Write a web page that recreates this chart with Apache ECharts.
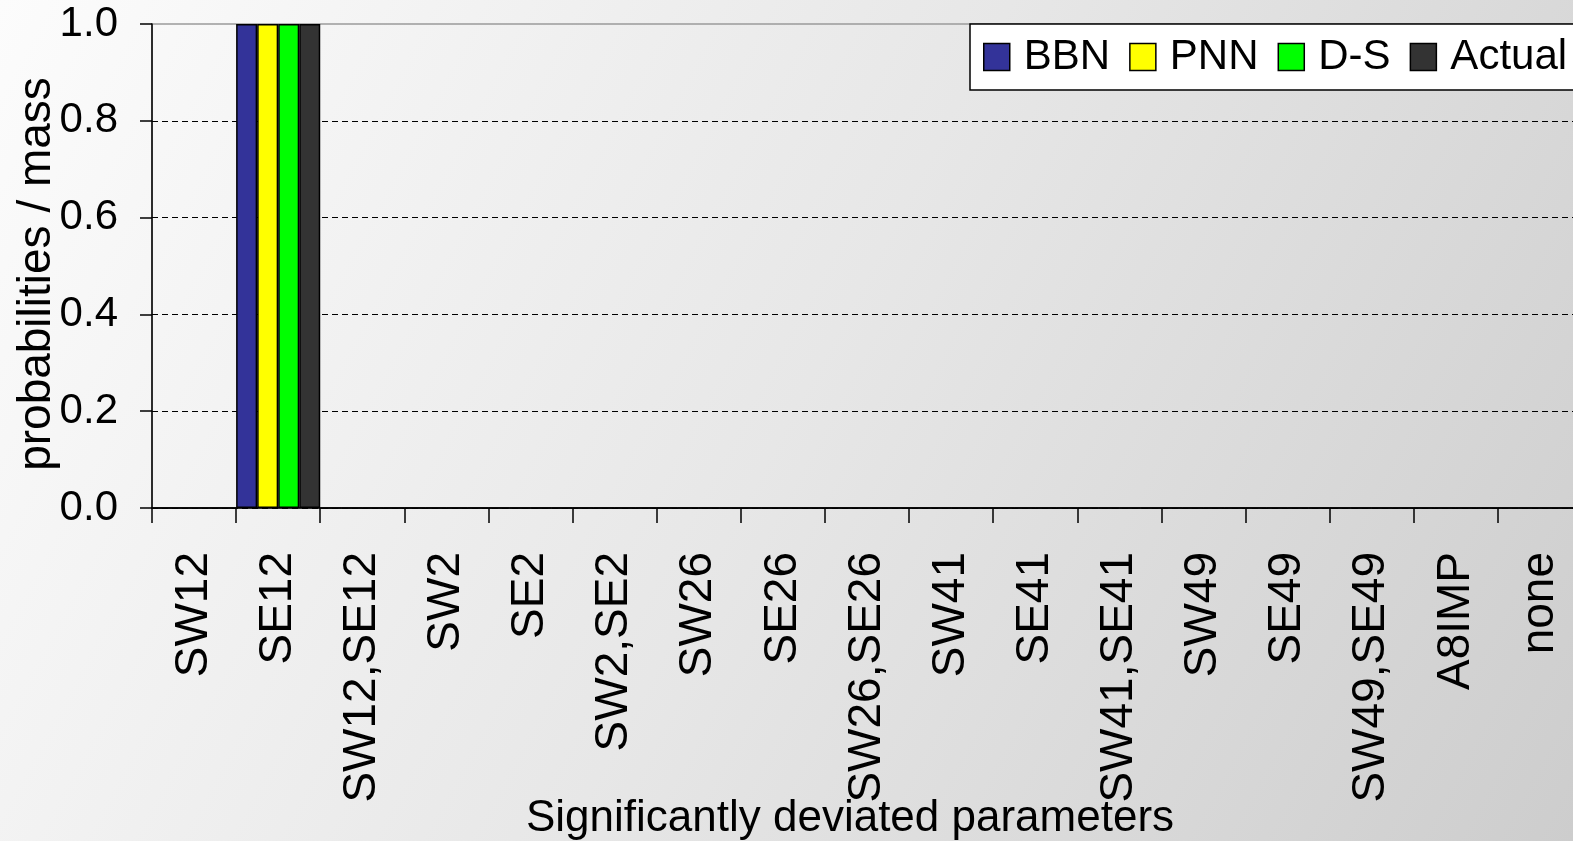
<!DOCTYPE html>
<html>
<head>
<meta charset="utf-8">
<script src="https://cdn.jsdelivr.net/npm/echarts@6/dist/echarts.min.js"></script>
<style>
html,body{margin:0;padding:0;width:1573px;height:841px;overflow:hidden;}
#chart{width:1573px;height:841px;}
</style>
</head>
<body>
<div id="chart"></div>
<script>
const categories = ['SW12','SE12','SW12,SE12','SW2','SE2','SW2,SE2','SW26','SE26','SW26,SE26','SW41','SE41','SW41,SE41','SW49','SE49','SW49,SE49','A8IMP','none'];
const bbn    = [0,1,0,0,0,0,0,0,0,0,0,0,0,0,0,0,0];
const pnn    = [0,1,0,0,0,0,0,0,0,0,0,0,0,0,0,0,0];
const ds     = [0,1,0,0,0,0,0,0,0,0,0,0,0,0,0,0,0];
const actual = [0,1,0,0,0,0,0,0,0,0,0,0,0,0,0,0,0];
const yTicks = ['0.0','0.2','0.4','0.6','0.8','1.0'];

const FONT = '"Liberation Sans", Arial, sans-serif';
const chart = echarts.init(document.getElementById('chart'));
function s(name, data, color) {
  return {
    name, type: 'bar', data,
    barGap: '0%', barCategoryGap: '0%',
    itemStyle: { color, borderColor: '#000', borderWidth: 1.5 },
    emphasis: { disabled: true }
  };
}
chart.setOption({
  animation: false,
  backgroundColor: {
    type: 'linear', x: 0, y: 0, x2: 1, y2: 1,
    colorStops: [
      { offset: 0, color: '#fcfcfc' },
      { offset: 0.5, color: '#e7e7e7' },
      { offset: 1, color: '#cdcdcd' }
    ]
  },
  grid: {
    left: 152, top: 24, width: 1430, height: 484,
    outerBoundsMode: 'none', containLabel: false,
    show: true, borderColor: '#9a9a9a', borderWidth: 1.5, backgroundColor: 'transparent'
  },
  legend: {
    left: 970, top: 24, width: 700,
    backgroundColor: '#ffffff', borderColor: '#000', borderWidth: 1.5,
    padding: [9, 20, 9, 13],
    itemWidth: 26, itemHeight: 27, itemGap: 19,
    icon: 'rect',
    textStyle: { fontFamily: FONT, fontSize: 42, color: '#000', padding: [0, 0, 0, 9], lineHeight: 48 },
    itemStyle: { borderColor: '#000', borderWidth: 1.5 },
    data: ['BBN', 'PNN', 'D-S', 'Actual']
  },
  xAxis: {
    type: 'category', data: categories,
    axisLine: { lineStyle: { color: '#000', width: 1.5 } },
    axisTick: { show: true, length: 15, lineStyle: { color: '#000', width: 1.5 } },
    axisLabel: { rotate: 90, interval: 0, margin: 44, fontFamily: FONT, fontSize: 46, color: '#000' },
    name: 'Significantly deviated parameters',
    nameLocation: 'middle', nameGap: 289, nameMoveOverlap: false,
    nameTextStyle: { fontFamily: FONT, fontSize: 44, color: '#000', padding: [0, 34, 0, 0] }
  },
  yAxis: {
    type: 'value', min: 0, max: 1, interval: 0.2,
    axisLine: { show: true, lineStyle: { color: '#000', width: 1.5 } },
    axisTick: { show: true, length: 12, lineStyle: { color: '#000', width: 1.5 } },
    axisLabel: { margin: 34, fontFamily: FONT, fontSize: 42, color: '#000',
      formatter: (v) => yTicks[Math.round(v / 0.2)] },
    splitLine: { show: true, showMaxLine: false, lineStyle: { color: '#000', type: [6, 4], width: 1 } },
    name: 'probabilities / mass',
    nameLocation: 'middle', nameGap: 92, nameMoveOverlap: false,
    nameTextStyle: { fontFamily: FONT, fontSize: 46, color: '#000', padding: [0, 16, 0, 0] }
  },
  series: [
    s('BBN', bbn, '#333399'),
    s('PNN', pnn, '#ffff00'),
    s('D-S', ds, '#00ff00'),
    s('Actual', actual, '#333333')
  ]
});
</script>
</body>
</html>
